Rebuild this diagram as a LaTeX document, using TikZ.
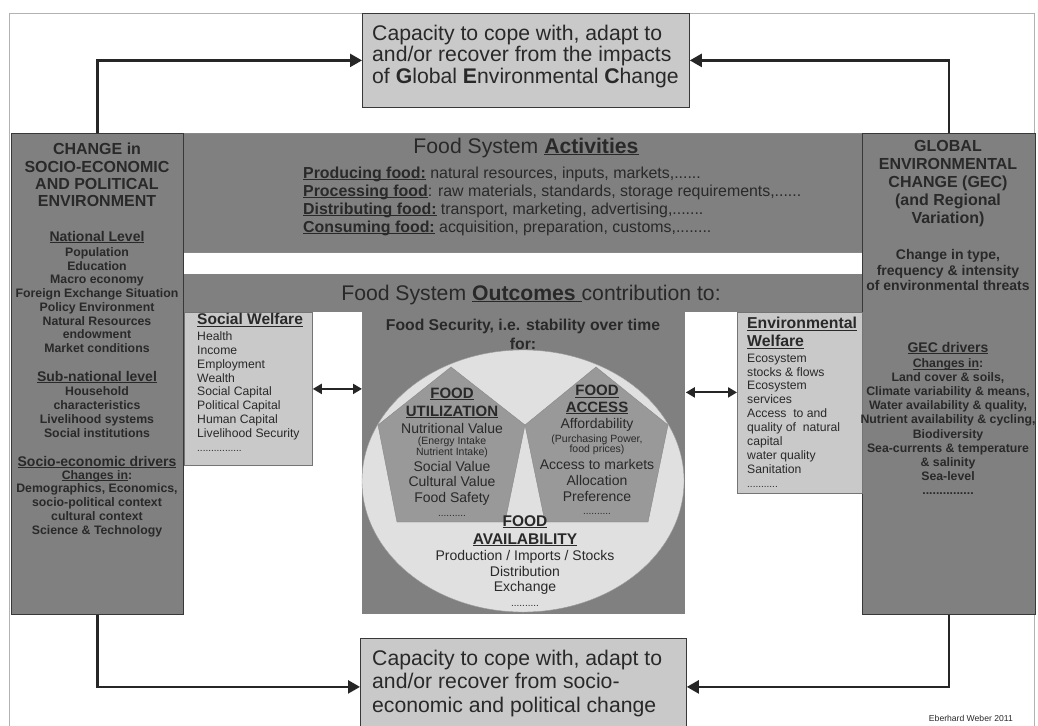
\documentclass[tikz,border=0pt]{standalone}
\usepackage{fontspec}
\setmainfont{Liberation Sans}
\usetikzlibrary{arrows.meta,shapes.geometric}
\definecolor{darkbox}{gray}{0.5}
\definecolor{litebox}{gray}{0.79}
\definecolor{ellfill}{gray}{0.88}
\definecolor{pentfill}{gray}{0.6}
\definecolor{ink}{gray}{0.16}
\definecolor{frame}{gray}{0.22}
\newcommand\fsz[2]{\fontsize{#1}{#2}\selectfont}
\newcommand\ulx[1]{\setbox0\hbox{#1}\rlap{\rule[-2pt]{\wd0}{1pt}}\box0}
\tikzset{
  box/.style={draw=frame, line width=0.8pt, inner sep=0, anchor=north west},
  t/.style={inner sep=0, text=ink, align=center},
  tl/.style={inner sep=0, text=ink, align=left},
  conn/.style={line width=2.4pt, draw=black!85, -{Triangle[length=12pt,width=13pt]}},
  dbl/.style={line width=2pt, draw=black!85, {Triangle[length=9pt,width=10pt]}-{Triangle[length=9pt,width=10pt]}},
}
\begin{document}
\begin{tikzpicture}[x=1pt,y=-1pt]
\useasboundingbox (0,0) rectangle (1038,725);
\fill[white] (0,0) rectangle (1038,725);
% outer frame
\draw[gray!60, line width=0.8pt] (9,13) rectangle (1034,740);
% bands
\node[box, draw=frame!60, fill=darkbox, minimum width=1024, minimum height=119] (act) at (11,133) {};
\node[box, draw=none, fill=darkbox, minimum width=679, minimum height=38] (outc) at (183,274) {};
\node[box, draw=none, fill=darkbox, minimum width=323, minimum height=302] (fs) at (362,312) {};
% side boxes
\node[box, fill=darkbox, minimum width=172, minimum height=481] (L) at (11,133) {};
\node[box, fill=darkbox, minimum width=173, minimum height=481] (R) at (862,133) {};
% top and bottom boxes
\node[box, fill=litebox, minimum width=327, minimum height=94] (top) at (362,13) {};
\node[tl, font=\fsz{21.2}{21.5}, anchor=west] (toptxt) at (372,56.5)
  {Capacity to cope with, adapt to\\and/or recover from the impacts\\of \textbf{G}lobal \textbf{E}nvironmental \textbf{C}hange};
\node[box, fill=litebox, minimum width=326, minimum height=97] (bot) at (360,638) {};
\node[tl, font=\fsz{21.2}{23.5}, anchor=west] (bottxt) at (372,683.5)
  {Capacity to cope with, adapt to\\and/or recover from socio-\\economic and political change};
% welfare boxes
\node[box, draw=frame!70, fill=litebox, minimum width=128, minimum height=153] (sw) at (184,312) {};
\node[box, draw=frame!70, fill=litebox, minimum width=125, minimum height=181] (ew) at (737,312) {};
% ellipse and pentagons
\node[ellipse, draw=frame!50, fill=ellfill, minimum width=322, minimum height=262, inner sep=0] (ell) at (523,481) {};
\draw[frame!60, fill=pentfill] (451,367) -- (525,425) -- (505,522) -- (397,522) -- (378,425) -- cycle;
\draw[frame!60, fill=pentfill] (596,367) -- (668,425) -- (648,522) -- (545,522) -- (525,425) -- cycle;

% Left box text
\node[t, font=\fsz{16}{17.3}\bfseries] (Lt) at (97,175) {CHANGE in\\SOCIO-ECONOMIC\\AND POLITICAL\\ENVIRONMENT};
\node[t, font=\fsz{14}{16}\bfseries] (Ln) at (97,237) {\ulx{National Level}};
\node[t, font=\fsz{12.3}{13.75}\bfseries] (Lnb) at (97,300) {Population\\Education\\Macro economy\\Foreign Exchange Situation\\Policy Environment\\Natural Resources\\endowment\\Market conditions};
\node[t, font=\fsz{14}{16}\bfseries] (Ls) at (97,377) {\ulx{Sub-national level}};
\node[t, font=\fsz{12.3}{13.9}\bfseries] (Lsb) at (97,412) {Household\\characteristics\\Livelihood systems\\Social institutions};
\node[t, font=\fsz{14}{16}\bfseries] (Ld) at (97,462) {\ulx{Socio-economic drivers}};
\node[t, font=\fsz{12.3}{13.75}\bfseries] (Ldb) at (97,503.5) {\ulx{Changes in}:\\Demographics, Economics,\\socio-political context\\cultural context\\Science \& Technology};

% Right box text
\node[t, font=\fsz{16}{18}\bfseries] (Rt) at (948,184) {GLOBAL\\ENVIRONMENTAL\\CHANGE (GEC)\\(and Regional\\Variation)};
\node[t, font=\fsz{14}{15.5}\bfseries] (Rc) at (948,270) {Change in type,\\frequency \& intensity\\of environmental threats};
\node[t, font=\fsz{14}{16}\bfseries] (Rd) at (948,348) {\ulx{GEC drivers}};
\node[t, font=\fsz{12.3}{14.1}\bfseries] (Rdb) at (948,426.5) {\ulx{Changes in}:\\Land cover \& soils,\\Climate variability \& means,\\Water availability \& quality,\\Nutrient availability \& cycling,\\Biodiversity\\Sea-currents \& temperature\\\& salinity\\Sea-level\\...............};

% Activities
\node[t, font=\fsz{21.2}{24}] (actt) at (526,148) {Food System \textbf{\ulx{Activities}}};
\node[tl, font=\fsz{15.9}{18}, anchor=west] (actb) at (303,201)
  {\textbf{\ulx{Producing food:}} natural resources, inputs, markets,......\\
   \textbf{\ulx{Processing food}}: raw materials, standards, storage requirements,......\\
   \textbf{\ulx{Distributing food:}} transport, marketing, advertising,.......\\
   \textbf{\ulx{Consuming food:}} acquisition, preparation, customs,........};

% Outcomes
\node[t, font=\fsz{21.2}{24}] (outt) at (531,295) {Food System \textbf{\ulx{Outcomes }}contribution to:};

% Social welfare
\node[tl, font=\fsz{15.5}{18}\bfseries, anchor=west] (swt) at (197,320) {\ulx{Social Welfare}};
\node[tl, font=\fsz{12.2}{13.9}, anchor=west] (swb) at (197,391.5) {Health\\Income\\Employment\\Wealth\\Social Capital\\Political Capital\\Human Capital\\Livelihood Security\\{\fsz{10}{10}................}};

% Environmental welfare
\node[tl, font=\fsz{15.8}{18}\bfseries, anchor=west] (ewt) at (747,333) {\ulx{Environmental}\\\ulx{Welfare}};
\node[tl, font=\fsz{12.2}{13.9}, anchor=west] (ewb) at (747,420.5) {Ecosystem\\stocks \& flows\\Ecosystem\\services\\Access\ \ to and\\quality of\ \ natural\\capital\\water quality\\Sanitation\\{\fsz{10}{10}...........}};

% Food security
\node[t, font=\fsz{15.75}{19}\bfseries] (fst) at (523,334.5) {Food Security, i.e. stability over time\\for:};

% Utilization
\node[t, font=\fsz{15}{18}\bfseries] (ut) at (452,403) {\ulx{FOOD}\\\ulx{UTILIZATION}};
\node[t, font=\fsz{14}{15.5}] (u1) at (452,428) {Nutritional Value};
\node[t, font=\fsz{10.5}{11.5}] (u2) at (452,447.5) {(Energy Intake\\Nutrient Intake)};
\node[t, font=\fsz{14}{15.5}] (u3) at (452,483) {Social Value\\Cultural Value\\Food Safety};
\node[t, font=\fsz{10}{10}] (u4) at (452,516) {..........};

% Access
\node[t, font=\fsz{15}{16.5}\bfseries] (at) at (597,400) {\ulx{FOOD}\\\ulx{ACCESS}};
\node[t, font=\fsz{14}{15.5}] (a1) at (597,425) {Affordability};
\node[t, font=\fsz{10.5}{10.5}] (a2) at (597,445) {(Purchasing Power,\\food prices)};
\node[t, font=\fsz{14}{16}] (a3) at (597,480) {Access to markets\\Allocation\\Preference};
\node[t, font=\fsz{10}{10}] (a4) at (597,514) {..........};

% Availability
\node[t, font=\fsz{15.5}{18}\bfseries] (avt) at (525,531) {\ulx{FOOD}\\\ulx{AVAILABILITY}};
\node[t, font=\fsz{14}{15.5}] (av1) at (525,572.5) {Production / Imports / Stocks\\Distribution\\Exchange};
\node[t, font=\fsz{10}{10}] (av2) at (525,606) {..........};

% credit
\node[inner sep=0, text=ink, font=\fsz{8.6}{10}, anchor=east] (cred) at (1013,718) {Eberhard Weber 2011};

% connectors
\draw[conn] (L.north) |- (top.west);
\draw[conn] (R.north) |- (top.east);
\draw[conn] (L.south) |- (bot.west);
\draw[conn] (R.south) |- (bot.east);
\draw[dbl] (sw.east) -- (sw.east -| fs.west);
\draw[dbl] ([yshift=10.5pt]ew.west -| fs.east) -- ([yshift=10.5pt]ew.west);
\end{tikzpicture}
\end{document}
